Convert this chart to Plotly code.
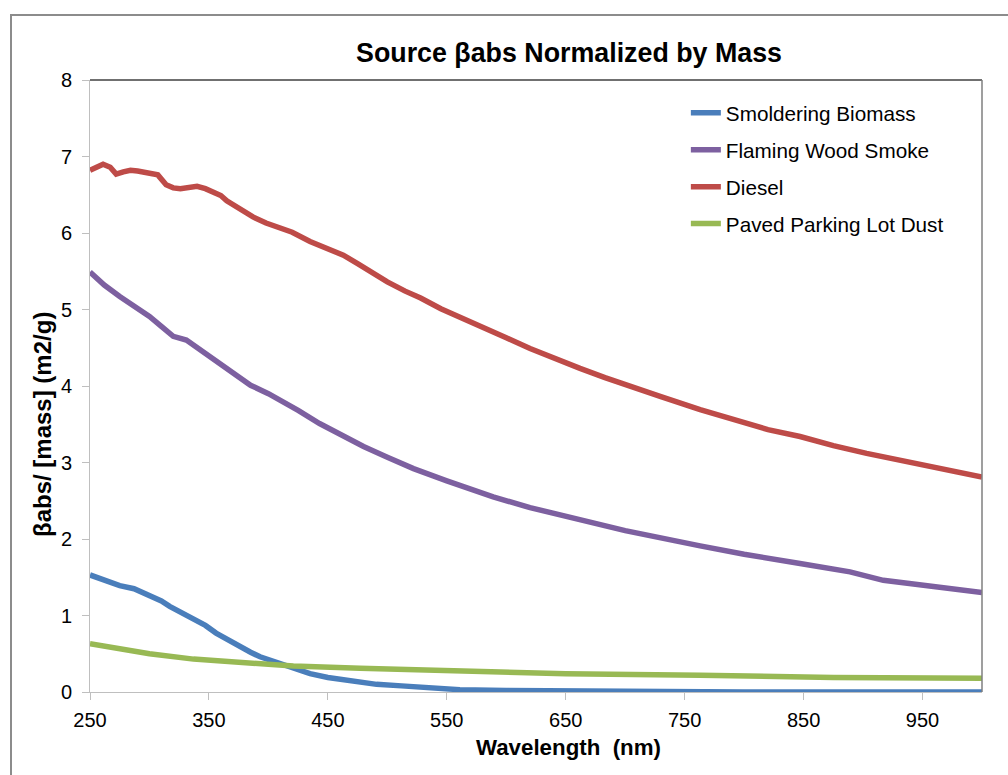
import plotly.graph_objects as go

# ---- data ----
diesel_wl = [250, 255, 261, 267, 272, 278, 284, 290, 300, 307, 314, 320, 326, 333, 340, 347, 354, 360, 365,
             376, 387, 398, 410, 420, 435, 450, 463, 475, 483, 500, 515, 528, 545, 560, 578, 600, 620, 640,
             662, 683, 704, 730, 763, 790, 820, 847, 875, 903, 930, 959, 980, 1000]
diesel = [6.82, 6.85, 6.90, 6.86, 6.77, 6.80, 6.82, 6.81, 6.79, 6.76, 6.63, 6.59, 6.58, 6.60, 6.61, 6.58,
          6.53, 6.49, 6.42, 6.31, 6.21, 6.13, 6.06, 6.01, 5.89, 5.80, 5.71, 5.60, 5.52, 5.36, 5.24, 5.15,
          5.01, 4.91, 4.78, 4.63, 4.49, 4.36, 4.23, 4.11, 3.99, 3.86, 3.69, 3.56, 3.43, 3.34, 3.22, 3.12,
          3.03, 2.95, 2.88, 2.81]

flaming_wl = [250, 262, 275, 287, 300, 310, 320, 331, 340, 353, 370, 385, 400, 410, 425, 443, 460, 480, 500,
              522, 550, 589, 620, 662, 700, 763, 800, 847, 889, 917, 959, 1000]
flaming = [5.49, 5.32, 5.17, 5.05, 4.91, 4.78, 4.65, 4.60, 4.50, 4.36, 4.17, 4.01, 3.90, 3.82, 3.68, 3.51,
           3.37, 3.21, 3.07, 2.92, 2.76, 2.55, 2.41, 2.25, 2.11, 1.91, 1.80, 1.68, 1.57, 1.46, 1.38, 1.30]

smolder_wl = [250, 262, 275, 287, 300, 310, 317, 327, 337, 347, 356, 366, 376, 385, 393, 402, 410, 422, 435,
              450, 463, 477, 491, 512, 533, 561, 600, 650, 700, 800, 900, 1000]
smolder = [1.53, 1.46, 1.39, 1.35, 1.27, 1.19, 1.12, 1.04, 0.96, 0.87, 0.77, 0.68, 0.59, 0.52, 0.46, 0.41,
           0.37, 0.30, 0.24, 0.19, 0.16, 0.13, 0.10, 0.08, 0.06, 0.03, 0.02, 0.01, 0.01, 0.0, 0.0, 0.0]

dust_wl = [250, 275, 300, 337, 376, 421, 477, 561, 650, 763, 875, 1000]
dust = [0.63, 0.56, 0.50, 0.43, 0.38, 0.34, 0.31, 0.27, 0.24, 0.22, 0.19, 0.18]

x_ticks = [250, 350, 450, 550, 650, 750, 850, 950]
y_ticks = [0, 1, 2, 3, 4, 5, 6, 7, 8]

series = [
    ("Smoldering Biomass", smolder_wl, smolder, "#4A7EBB"),
    ("Flaming Wood Smoke", flaming_wl, flaming, "#7D60A0"),
    ("Diesel", diesel_wl, diesel, "#BE4B48"),
    ("Paved Parking Lot Dust", dust_wl, dust, "#98B954"),
]

FONT = "Liberation Sans, Arial, sans-serif"

fig = go.Figure()
for i, (name, xs, ys, col) in enumerate(series):
    fig.add_trace(go.Scatter(x=xs, y=ys, name=name, mode="lines",
                             line=dict(color=col, width=5.5), legendgroup=f"g{i}"))

fig.update_layout(
    width=1008, height=775,
    margin=dict(l=90, r=26, t=80, b=83),
    paper_bgcolor="white", plot_bgcolor="white",
    font=dict(family=FONT, size=20, color="black"),
    title=dict(text="<b>Source βabs Normalized by Mass</b>", x=0.5645, xanchor="center",
               y=1 - 53 / 775, yanchor="middle", font=dict(size=26.8, family=FONT, color="black")),
    showlegend=True,
    legend=dict(x=0.668, y=0.979, xanchor="left", yanchor="top", bgcolor="rgba(0,0,0,0)",
                font=dict(size=20.7, family=FONT, color="black"), tracegroupgap=7,
                itemwidth=30),
    xaxis=dict(range=[250, 1000], tickvals=x_ticks, ticks="outside", ticklen=7, tickcolor="#BFBFBF",
               showgrid=False, zeroline=False, showline=True, linecolor="#BFBFBF", linewidth=1,
               tickfont=dict(size=20, family=FONT, color="black"), ticklabelstandoff=3),
    yaxis=dict(range=[0, 8], tickvals=y_ticks, ticks="outside", ticklen=7, tickcolor="#BFBFBF",
               showgrid=False, zeroline=False, showline=True, linecolor="#BFBFBF", linewidth=1,
               tickfont=dict(size=20, family=FONT, color="black"), ticklabelstandoff=6),
)

# axis titles (positioned as in the reference)
fig.add_annotation(text="<b>Wavelength  (nm)</b>", xref="paper", yref="paper",
                   x=(568 - 90) / 892, y=(692 - 748) / 612, xanchor="center", yanchor="middle",
                   showarrow=False, font=dict(size=22.3, family=FONT, color="black"))
fig.add_annotation(text="<b>βabs/ [mass] (m2/g)</b>", xref="paper", yref="paper",
                   x=(42 - 90) / 892, y=(692 - 425) / 612, xanchor="center", yanchor="middle",
                   textangle=-90, showarrow=False, font=dict(size=24, family=FONT, color="black"))

# plot frame: top (dark) and right (gray) edges
fig.add_shape(type="line", xref="paper", yref="paper", x0=0, x1=1, y0=1, y1=1,
              line=dict(color="#404040", width=1.5))
fig.add_shape(type="line", xref="paper", yref="paper", x0=1, x1=1, y0=0, y1=1,
              line=dict(color="#7F7F7F", width=1.5))
# outer chart border
fig.add_shape(type="rect", xref="paper", yref="paper",
              x0=(11 - 90) / 892, x1=1.2, y0=-0.3, y1=1 + (80 - 15) / 612,
              line=dict(color="#8C8C8C", width=2), fillcolor="rgba(0,0,0,0)", layer="below")

fig.write_html("out.html")
